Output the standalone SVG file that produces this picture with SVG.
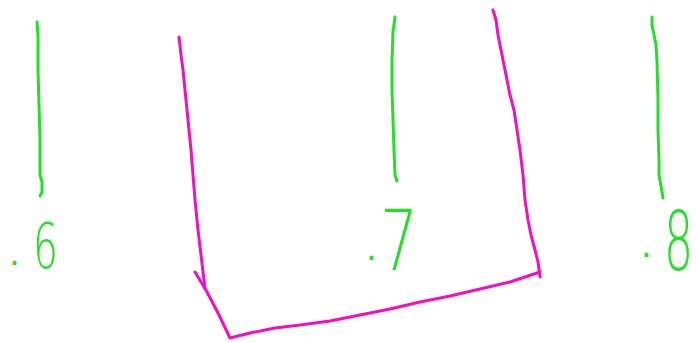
<svg xmlns="http://www.w3.org/2000/svg" width="697" height="343" viewBox="0 0 697 343">
<style>
.g{fill:none;stroke:#22e022;stroke-width:3;stroke-linecap:round;stroke-linejoin:round}
.m{fill:none;stroke:#f010c0;stroke-width:3;stroke-linecap:round;stroke-linejoin:round}
.t{fill:#22e022;font-family:"DejaVu Sans","Liberation Sans",sans-serif;font-weight:200}
.d{fill:#22e022;font-family:"DejaVu Sans","Liberation Sans",sans-serif;font-size:34px}
</style>
<rect width="697" height="343" fill="#fff"/>
<g id="green-lines">
<path class="g" d="M37,22 L38,36 L38,70 L39,105 L40,140 L40,165 L40,175 L42,182 L42,192 L40,196"/>
<path class="g" d="M395,17 L393,32 L392,60 L392,90 L393,120 L394,150 L395,175 L397,181"/>
<path class="g" d="M652,17 L652,25 L656,45 L657,62 L658,100 L658,130 L659,160 L659,175 L661,186 L663,198"/>
</g>
<g id="bracket">
<path class="m" d="M179,37 L181,55 L183,70 L185,90 L187,110 L189,130 L191,150 L193,175 L195,200 L198,230 L201,255 L204,280 L205,288"/>
<path class="m" d="M493,10 L496,20 L498,35 L501,50 L504,65 L507,80 L510,95 L514,110 L517,130 L520,150 L523,175 L525,200 L528,220 L531,235 L535,250 L538,262 L540,277"/>
<path class="m" d="M195,272 L207,292 L218,313 L230,338 L250,333 L275,328 L300,325 L330,321 L360,315 L390,309 L420,302 L450,296 L480,289 L510,282 L540,272"/>
</g>
<g id="labels">
<text class="d" x="9" y="265">.</text>
<text id="label-6" class="t" x="33" y="268" font-size="62" textLength="25" lengthAdjust="spacingAndGlyphs">6</text>
<text class="d" x="366" y="260">.</text>
<text id="label-7" class="t" x="380" y="270" font-size="84" textLength="38" lengthAdjust="spacingAndGlyphs">7</text>
<text class="d" x="641" y="257">.</text>
<text id="label-8" class="t" font-size="62" transform="translate(664 270) scale(0.74 1.33)">8</text>
</g>
</svg>
